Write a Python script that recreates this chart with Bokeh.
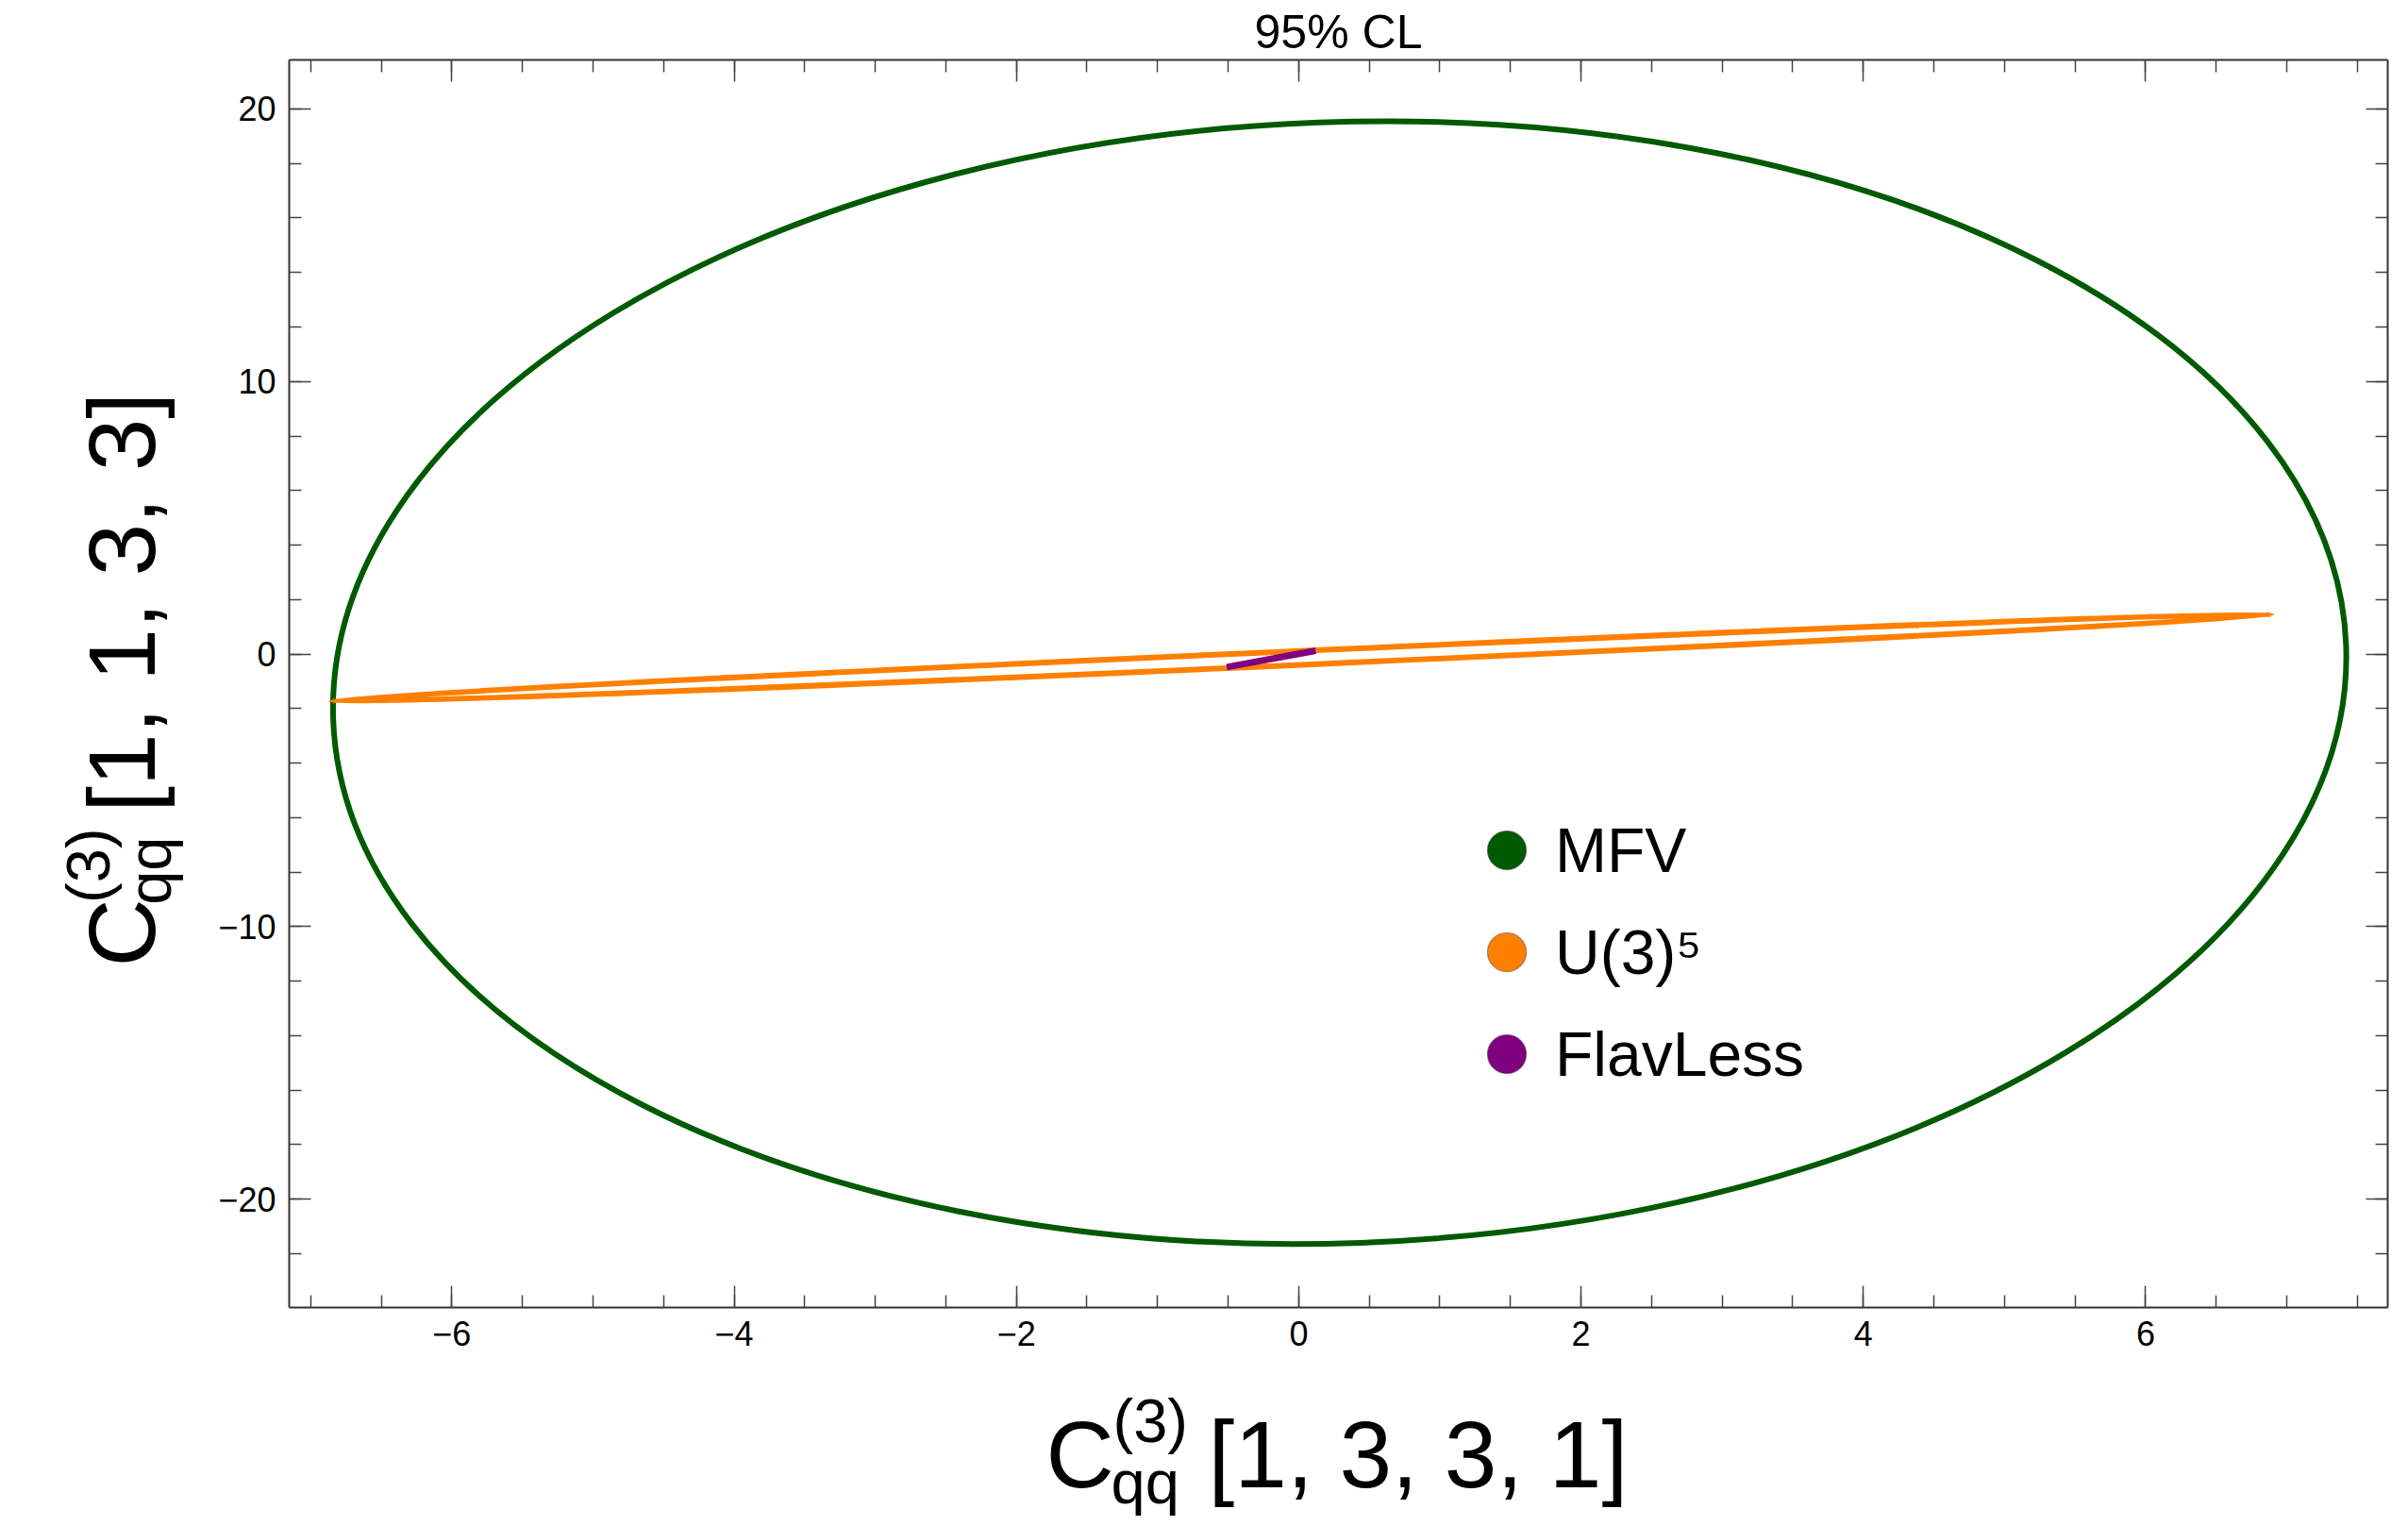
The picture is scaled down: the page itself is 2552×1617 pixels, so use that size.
import numpy as np
from bokeh.plotting import figure
from bokeh.layouts import column, row
from bokeh.models import (Range1d, LinearAxis, FixedTicker, Legend,
                          LegendItem, ColumnDataSource)
from bokeh.core.properties import value
from bokeh.embed import file_html
from bokeh.resources import INLINE

# ---------------- data ----------------
series_names = ["MFV", "U(3)\u2075", "FlavLess"]
series_colors = ["#005a00", "#ff8000", "#800080"]

# MFV 95% CL ellipse (center, full width along x, full height along y, tilt in rad)
mfv_cx = [0.29]
mfv_cy = [-1.05]
mfv_w = [14.27]
mfv_h = [41.15]
mfv_angle = [0.037]

# U(3)^5 95% CL ellipse (very thin)
u35_cx = [0.02]
u35_cy = [-0.14]
u35_w = [13.76]
u35_h = [0.51]
u35_angle = [0.0446]

# FlavLess 95% CL region (degenerate, a short segment)
flav_x = [-0.51, 0.12]
flav_y = [-0.48, 0.12]

x_major_ticks = [-6, -4, -2, 0, 2, 4, 6]
y_major_ticks = [-20, -10, 0, 10, 20]
x_minor_ticks = [-7 + 0.5 * i for i in range(30)]
y_minor_ticks = list(range(-22, 21, 2))

x_lim = (-7.152, 7.715)
y_lim = (-23.98, 21.80)

title_text = "95% CL"
xlabel_parts = ["C", "(3)", "qq", "[1, 3, 3, 1]"]
ylabel_parts = ["C", "(3)", "qq", "[1, 1, 3, 3]"]

FONT = "Liberation Sans"
W, H = 2552, 1617
TOP_H, LEFT_W, BOTTOM_H = 62, 200, 167
MAIN_W, MAIN_H = W - LEFT_W, H - TOP_H - BOTTOM_H

# ---------------- main figure ----------------
p = figure(width=MAIN_W, height=MAIN_H, output_backend="svg", toolbar_location=None,
           x_range=Range1d(*x_lim), y_range=Range1d(*y_lim),
           min_border_left=106, min_border_right=22, min_border_top=1,
           min_border_bottom=65, x_axis_location=None, y_axis_location=None)
p.grid.visible = False
p.outline_line_color = None
p.background_fill_color = "white"
p.border_fill_color = "white"


def minus(v):
    return str(v).replace("-", "\u2212")


def make_axis(ticks, minor, show_labels):
    ax = LinearAxis(ticker=FixedTicker(ticks=ticks, minor_ticks=minor))
    ax.axis_line_color = "#333333"
    ax.axis_line_width = 2
    ax.major_tick_in = 23
    ax.major_tick_out = 0
    ax.minor_tick_in = 13
    ax.minor_tick_out = 0
    ax.major_tick_line_color = "#444444"
    ax.major_tick_line_width = 1.5
    ax.minor_tick_line_color = "#444444"
    ax.minor_tick_line_width = 1.5
    if show_labels:
        ax.major_label_standoff = 14
        ax.major_label_overrides = {t: minus(t) for t in ticks}
        ax.major_label_text_font = FONT
        ax.major_label_text_font_size = "36px"
        ax.major_label_text_color = "black"
    else:
        ax.major_label_standoff = 0
        ax.major_label_text_font_size = "0px"
        ax.major_label_text_alpha = 0
    return ax


p.add_layout(make_axis(x_major_ticks, x_minor_ticks, True), "below")
p.add_layout(make_axis(y_major_ticks, y_minor_ticks, True), "left")
p.add_layout(make_axis(x_major_ticks, x_minor_ticks, False), "above")
p.add_layout(make_axis(y_major_ticks, y_minor_ticks, False), "right")

# ---------------- curves ----------------
mfv_src = ColumnDataSource(dict(x=mfv_cx, y=mfv_cy, w=mfv_w, h=mfv_h, a=mfv_angle))
p.ellipse(x="x", y="y", width="w", height="h", angle="a", source=mfv_src,
          fill_color=None, line_color=series_colors[0], line_width=6)

u35_src = ColumnDataSource(dict(x=u35_cx, y=u35_cy, w=u35_w, h=u35_h, a=u35_angle))
p.ellipse(x="x", y="y", width="w", height="h", angle="a", source=u35_src,
          fill_color=None, line_color=series_colors[1], line_width=6)

p.line(flav_x, flav_y, line_color=series_colors[2], line_width=7, line_cap="butt")

# ---------------- legend (marker-only proxies, not drawn in the frame) ----------------
items = []
for name, col in zip(series_names, series_colors):
    r = p.scatter(x=[float("nan")], y=[float("nan")], marker="circle", fill_color=col,
                  line_color="#333333", line_alpha=0.45, line_width=1.2)
    items.append(LegendItem(label=name, renderers=[r]))

legend = Legend(items=items, location=(1239, 217), padding=0, margin=0, spacing=5,
                glyph_width=103, glyph_height=103, label_standoff=0,
                label_text_font=FONT, label_text_font_size="66px",
                label_text_color="black", label_text_baseline="middle",
                border_line_color=None, background_fill_alpha=0)
p.add_layout(legend, "center")


# ---------------- text strips (title and axis labels as real text) ----------------
def strip(w, h):
    f = figure(width=w, height=h, output_backend="svg", toolbar_location=None,
               x_range=Range1d(0, w), y_range=Range1d(h, 0), min_border=0,
               x_axis_location=None, y_axis_location=None)
    f.grid.visible = False
    f.outline_line_color = None
    f.background_fill_color = "white"
    f.border_fill_color = "white"
    return f


def put(f, text, x, y, size, angle=0.0, align="left"):
    f.text(x=[x], y=[y], text=[text], text_font=value(FONT), text_font_size=size,
           text_color="black", text_align=align, text_baseline="middle",
           angle=angle)


# title
top = strip(W, TOP_H)
put(top, title_text, 1418, 33, "50px", align="center")

# x-axis label: C^(3)_qq[1, 3, 3, 1]
xl = strip(W, BOTTOM_H)
put(xl, xlabel_parts[0], 1108, 90, "100px")
put(xl, xlabel_parts[1], 1179, 55, "65px")
put(xl, xlabel_parts[2], 1177, 120, "65px")
put(xl, xlabel_parts[3], 1280, 90, "100px")

# y-axis label (rotated): C^(3)_qq[1, 1, 3, 3]
yl = strip(LEFT_W, MAIN_H)
ang = np.pi / 2
put(yl, ylabel_parts[0], 128, 1009, "100px", angle=ang)
put(yl, ylabel_parts[1], 93, 938, "65px", angle=ang)
put(yl, ylabel_parts[2], 158, 940, "65px", angle=ang)
put(yl, ylabel_parts[3], 128, 837, "100px", angle=ang)

layout = column(top, row(yl, p, spacing=0), xl, spacing=0)

open("out.html", "w").write(file_html(layout, INLINE))
